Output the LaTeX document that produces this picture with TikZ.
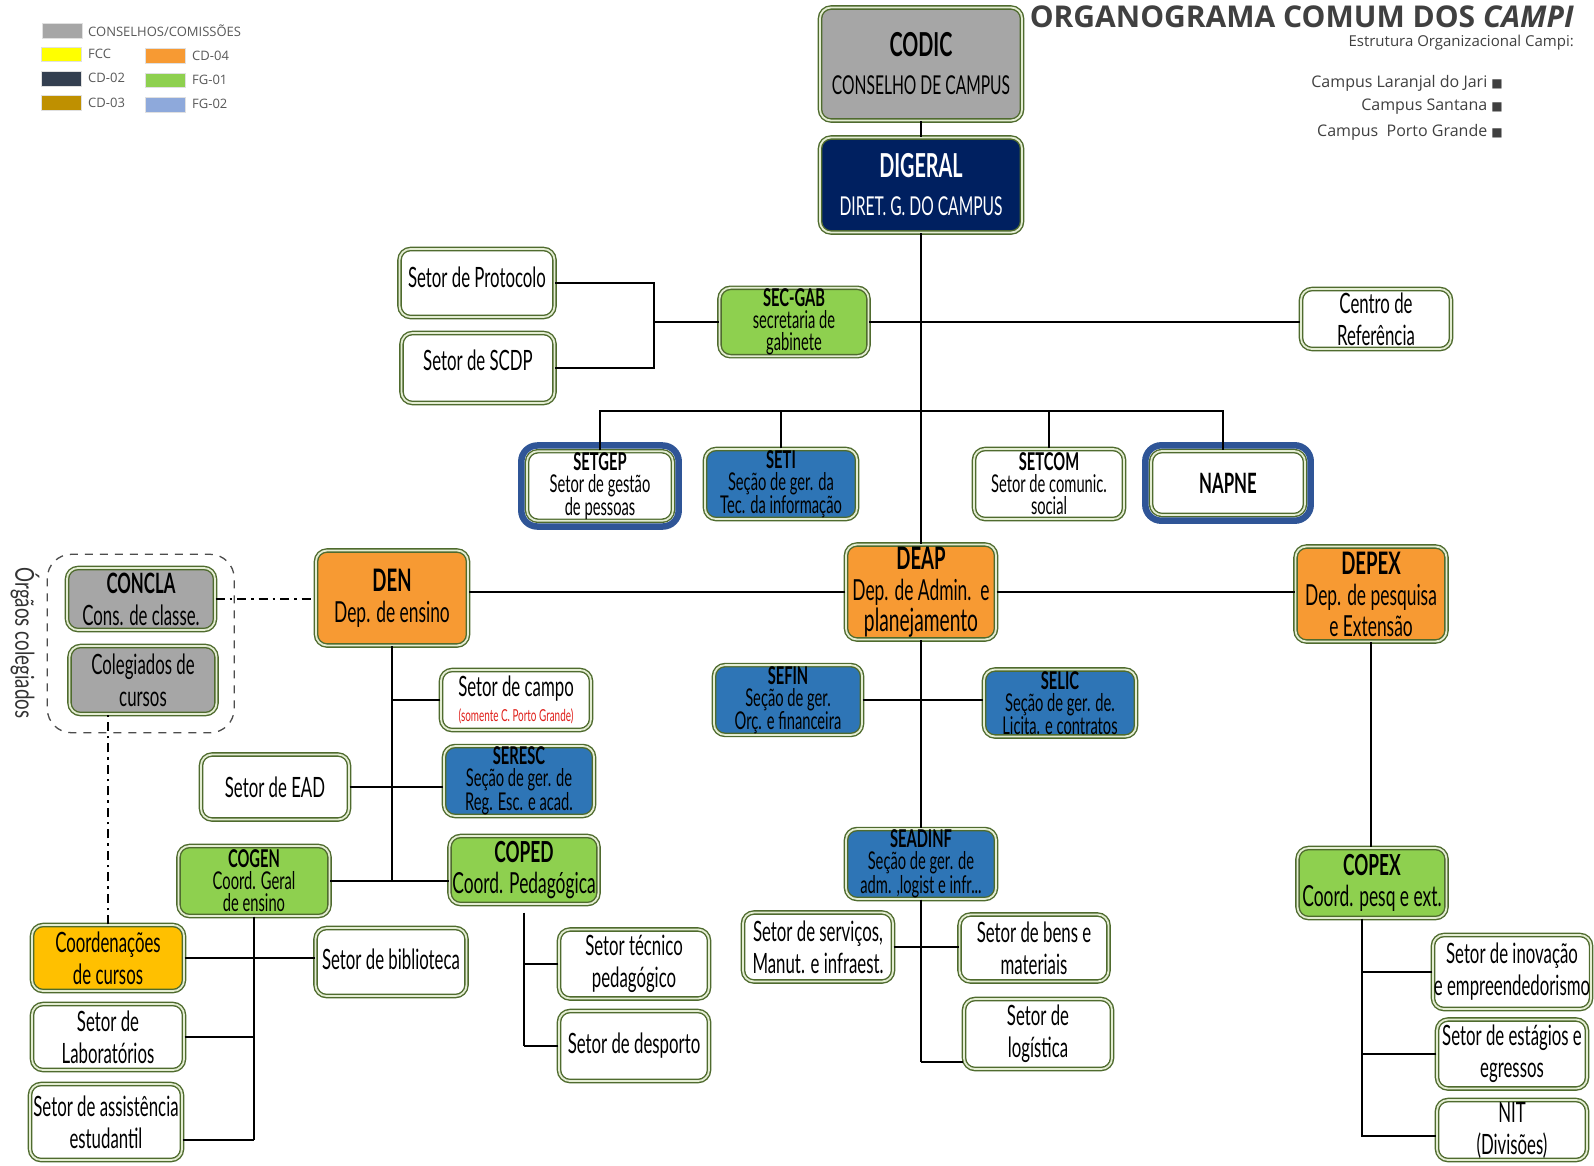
\documentclass[tikz,border=0pt]{standalone}
\usepackage{fontspec}
\usepackage{tikz}
\usetikzlibrary{positioning, calc}
\setmainfont{Open Sans}
\newfontfamily\cond[FakeStretch=0.6]{Lato}
\newfontfamily\condw[FakeStretch=0.72]{Lato}
\newfontfamily\symb{DejaVu Sans}
\definecolor{consgray}{HTML}{A6A6A6}
\definecolor{dirnavy}{HTML}{002060}
\definecolor{cdorange}{HTML}{F79A33}
\definecolor{fggreen}{HTML}{8ED04F}
\definecolor{secblue}{HTML}{2E75B6}
\definecolor{fccgold}{HTML}{FFC000}
\definecolor{edgegreen}{HTML}{4F6B2E}
\definecolor{edgelight}{HTML}{E4EDD3}
\definecolor{frameblue}{HTML}{2F5597}
\definecolor{leggray}{HTML}{595959}
\definecolor{titlegray}{HTML}{404040}
\definecolor{notered}{HTML}{E0201B}
\definecolor{fccyellow}{HTML}{FFFF00}
\definecolor{cdslate}{HTML}{333F50}
\definecolor{cdgold}{HTML}{BF9000}
\definecolor{fgblue}{HTML}{8EA9DB}

\begin{document}
\begin{tikzpicture}[x=1pt, y=-1pt,
  box/.style={rounded corners=11pt, draw=edgegreen, double=edgelight, double distance=1.8pt, line width=1.4pt, align=center, inner sep=1pt, font=\cond\fontsize{28}{32}\selectfont},
  tight/.style={font=\cond\fontsize{24.5}{22}\selectfont},
  dept/.style={font=\cond\fontsize{29}{31}\selectfont},
  sz/.style 2 args={minimum width=#1pt, minimum height=#2pt},
  cons/.style={box, fill=consgray},
  dir/.style={box, fill=dirnavy, text=white},
  cd/.style={box, fill=cdorange},
  fg/.style={box, fill=fggreen},
  sec/.style={box, fill=secblue},
  fcc/.style={box, fill=fccgold},
  plain/.style={box, fill=white},
  link/.style={line width=2.6pt},
  dashdot/.style={line width=2.4pt, dash pattern=on 9pt off 5pt on 2.5pt off 5pt},
  blueframe/.style={draw=frameblue, line width=6.5pt, rounded corners=16pt},
  swatch/.style={draw=black!12, line width=0.4pt},
  legend/.style={anchor=west, inner sep=0pt, text=leggray, font=\fontsize{13}{13}\selectfont},
  heading/.style={anchor=east, inner sep=0pt, text=titlegray}
]
\useasboundingbox[fill=white] (0,0) rectangle (1594,1165);

%% legenda
\fill[consgray, swatch] (42,23) rectangle (82,38);
\node[legend] (lcons) at (88,31) {CONSELHOS/COMISSÕES};
\fill[fccyellow, swatch] (41,47) rectangle (81,61);
\node[legend] (lfcc) at (88,54) {FCC};
\fill[cdslate, swatch] (41,71) rectangle (81,86);
\node[legend] (lcd2) at (88,78) {CD-02};
\fill[cdgold, swatch] (41,95) rectangle (81,110);
\node[legend] (lcd3) at (88,103) {CD-03};
\fill[cdorange, swatch] (145,48) rectangle (185,63);
\node[legend] (lcd4) at (192,56) {CD-04};
\fill[fggreen, swatch] (145,73) rectangle (185,87);
\node[legend] (lfg1) at (192,80) {FG-01};
\fill[fgblue, swatch] (145,97) rectangle (185,112);
\node[legend] (lfg2) at (192,104) {FG-02};

%% titulo
\node[heading, text depth=0pt, font=\bfseries\fontsize{30}{30}\selectfont] (title) at (1574,17) {ORGANOGRAMA COMUM DOS \textit{CAMPI}};
\node[heading, font=\fontsize{15}{15}\selectfont] (subtitle) at (1574,43) {Estrutura Organizacional Campi:};
\node[heading, font=\fontsize{16}{16}\selectfont] (camp1) at (1503,83) {Campus Laranjal do Jari {\symb\fontsize{12}{12}\selectfont ■}};
\node[heading, font=\fontsize{16}{16}\selectfont] (camp2) at (1503,107) {Campus Santana {\symb\fontsize{12}{12}\selectfont ■}};
\node[heading, font=\fontsize{16}{16}\selectfont] (camp3) at (1503,132) {Campus\ \ Porto Grande {\symb\fontsize{12}{12}\selectfont ■}};

%% direcao
\node[cons, sz={202}{113}] (codic) at (921,64) {{\fontsize{33}{33}\selectfont\bfseries CODIC}\\[6pt]{\fontsize{26}{28}\selectfont CONSELHO DE CAMPUS}};
\node[dir, sz={202}{95}] (digeral) at (921,185) {{\fontsize{33}{33}\selectfont\bfseries DIGERAL}\\[6pt]{\fontsize{26}{28}\selectfont DIRET. G. DO CAMPUS}};

\node[plain, text depth=12pt, sz={155}{68}] (protocolo) at (477,283) {Setor de Protocolo};
\node[plain, text depth=16pt, sz={153}{70}] (scdp) at (478,368) {Setor de SCDP};
\node[fg, tight, sz={149}{67}] (secgab) at (794,322) {\textbf{SEC-GAB}\\secretaria de\\gabinete};
\node[plain, sz={150}{60}] (centro) at (1376,319) {Centro de\\Referência};

\node[plain, tight, sz={146}{64}] (setgep) at (600,486) {\textbf{SETGEP}\\Setor de gestão\\de pessoas};
\node[sec, tight, sz={152}{70}] (seti) at (781,484) {\textbf{SETI}\\Seção de ger. da\\Tec. da informação};
\node[plain, tight, sz={150}{70}] (setcom) at (1049,484) {\textbf{SETCOM}\\Setor de comunic.\\social};
\node[plain, sz={154}{64}] (napne) at (1228,483) {\textbf{NAPNE}};
\draw[blueframe] ([shift={(-5pt,5pt)}]setgep.north west) rectangle ([shift={(5pt,-5pt)}]setgep.south east);
\draw[blueframe] ([shift={(-5pt,5pt)}]napne.north west) rectangle ([shift={(5pt,-5pt)}]napne.south east);

%% departamentos
\node[cd, dept, sz={152}{95}] (den) at (392,598) {{\fontsize{31}{32}\selectfont\bfseries DEN}\\Dep. de ensino};
\node[cd, dept, sz={150}{95}] (deap) at (921,592) {{\fontsize{31}{32}\selectfont\bfseries DEAP}\\Dep. de Admin.\ \ e\\{\fontsize{32}{32}\selectfont planejamento}};
\node[cd, dept, sz={151}{95}] (depex) at (1371,594) {{\fontsize{31}{32}\selectfont\bfseries DEPEX}\\Dep. de pesquisa\\e Extensão};

%% orgaos colegiados
\node[cons, sz={148}{62}] (concla) at (141,599) {\textbf{CONCLA}\\Cons. de classe.};
\node[cons, sz={147}{68}] (coleg) at (143,680) {Colegiados de\\cursos};
\draw[gray!60!black, line width=1.3pt, dash pattern=on 8pt off 7pt, rounded corners=24pt] ([shift={(-19pt,13pt)}]concla.north west) rectangle ([shift={(17pt,-18pt)}]coleg.south east);
\node[rotate=-90, inner sep=0pt, text=black!80, font=\condw\fontsize{26}{26}\selectfont] (orgaos) at (25,643) {Órgãos colegiados};

%% ensino
\node[plain, sz={150}{60}] (campo) at (516,700) {Setor de campo\\[-7pt]{\color{notered}\fontsize{16.5}{16}\selectfont(somente C. Porto Grande)}};
\node[sec, tight, sz={150}{63}] (seresc) at (519,781) {\textbf{SERESC}\\Seção de ger. de\\Reg. Esc. e acad.};
\node[plain, sz={148}{65}] (ead) at (275,787) {Setor de EAD};
\node[fg, tight, sz={151}{70}] (cogen) at (254,881) {\textbf{COGEN}\\Coord. Geral\\de ensino};
\node[fg, dept, sz={149}{68}] (coped) at (524,870) {{\bfseries COPED}\\Coord. Pedagógica};
\node[fcc, sz={152}{66}] (coord) at (108,958) {Coordenações\\de cursos};
\node[plain, text depth=6pt, sz={151}{68}] (biblio) at (391,962) {Setor de biblioteca};
\node[plain, sz={152}{66}] (labor) at (108,1037) {Setor de\\Laboratórios};
\node[plain, sz={152}{76}] (assist) at (106,1122) {Setor de assistência\\estudantil};
\node[plain, sz={150}{69}] (tecnico) at (634,964) {Setor técnico\\pedagógico};
\node[plain, sz={150}{70}] (desporto) at (634,1046) {Setor de desporto};

%% administracao
\node[sec, tight, sz={148}{66}] (sefin) at (788,700) {\textbf{SEFIN}\\Seção de ger.\\Orç. e financeira};
\node[sec, tight, sz={152}{67}] (selic) at (1060,703) {\textbf{SELIC}\\Seção de ger. de.\\Licita. e contratos};
\node[sec, tight, sz={150}{66}] (seadinf) at (921,864) {\textbf{SEADINF}\\Seção de ger. de\\adm. ,logist e infr...};
\node[plain, sz={150}{69}] (servicos) at (818,947) {Setor de serviços,\\Manut. e infraest.};
\node[plain, sz={149}{67}] (bens) at (1034,948) {Setor de bens e\\materiais};
\node[plain, sz={148}{70}] (logist) at (1038,1034) {Setor de\\logística};

%% pesquisa e extensao
\node[fg, dept, sz={149}{70}] (copex) at (1372,883) {{\bfseries COPEX}\\Coord. pesq e ext.};
\node[plain, sz={150}{74}] (inov) at (1512,972) {Setor de inovação\\e empreendedorismo};
\node[plain, sz={150}{69}] (estag) at (1512,1054) {Setor de estágios e\\egressos};
\node[plain, sz={150}{60}] (nit) at (1512,1130) {NIT\\(Divisões)};

%% ligacoes
\draw[link] (codic) -- (digeral);
\draw[link] (digeral) -- (deap);
\draw[link] (secgab.east) -- (secgab.east -| centro.west);
\coordinate (gabjoin) at (654,322);
\draw[link] (protocolo.east) -| (gabjoin) |- (scdp.east);
\draw[link] (gabjoin) -- (secgab.west);
\coordinate (bar) at (921,411);
\draw[link] (setgep.north) -- (setgep.north |- bar) -- ([xshift=-5pt]napne.north |- bar) -- ([xshift=-5pt]napne.north);
\draw[link] (seti.north) -- (seti.north |- bar);
\draw[link] (setcom.north) -- (setcom.north |- bar);

\draw[link] (deap.west) -- (deap.west -| den.east);
\draw[link] (deap.east) -- (deap.east -| depex.west);
\draw[dashdot] (concla.east) -- (concla.east -| den.west);
\draw[dashdot] (coord.north) -- (coord.north |- coleg.south);

\draw[link] (den.south) -- (den.south |- cogen.east);
\draw[link] (campo.west) -- (campo.west -| den.south);
\draw[link] (ead.east) -- (ead.east -| seresc.west);
\draw[link] (cogen.east) -- (cogen.east -| coped.west);
\draw[link] (cogen.south) -- ([yshift=-18pt]cogen.south |- assist.east);
\draw[link] (coord.east) -- (coord.east -| biblio.west);
\draw[link] (labor.east) -- (labor.east -| cogen.south);
\draw[link] ([yshift=-18pt]assist.east) -- ([yshift=-18pt]assist.east -| cogen.south);
\draw[link] ([yshift=-8pt]coped.south) -- (coped.south |- desporto.west);
\draw[link] (tecnico.west) -- (tecnico.west -| coped.south);
\draw[link] (desporto.west) -- (desporto.west -| coped.south);

\draw[link] (sefin.east) -- (sefin.east -| selic.west);
\draw[link] (deap.south) -- (seadinf.north);
\draw[link] (seadinf.south) -- ([yshift=-28pt]seadinf.south |- logist.west);
\draw[link] (servicos.east) -- (servicos.east -| bens.west);
\draw[link] ([yshift=-28pt]logist.west) -- ([yshift=-28pt]logist.west -| seadinf.south);

\draw[link] (depex.south) -- (depex.south |- copex.north);
\coordinate (copexfoot) at ([xshift=-10pt]copex.south);
\draw[link] (copexfoot) |- ([yshift=-6pt]nit.west);
\draw[link] (inov.west) -- (inov.west -| copexfoot);
\draw[link] (estag.west) -- (estag.west -| copexfoot);
\end{tikzpicture}
\end{document}
